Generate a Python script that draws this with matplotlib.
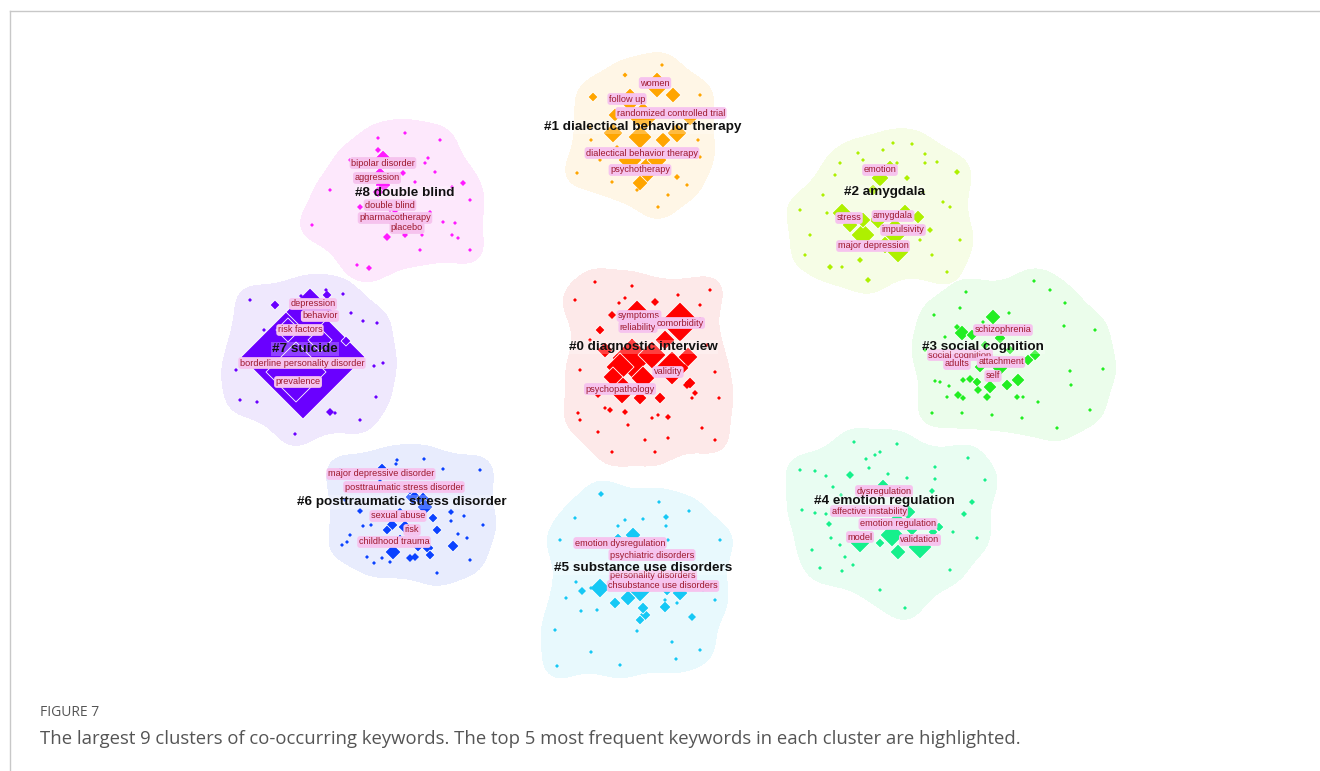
import numpy as np
import matplotlib
matplotlib.use('Agg')
import matplotlib.pyplot as plt

# canvas is laid out in pixel units
W_PX, H_PX = 1320, 771

cluster_ids = [0, 1, 2, 3, 4, 5, 6, 7, 8]
cluster_names = ['diagnostic interview', 'dialectical behavior therapy', 'amygdala',
                 'social cognition', 'emotion regulation', 'substance use disorders',
                 'posttraumatic stress disorder', 'suicide', 'double blind']
cluster_label_x = [643, 643, 884, 983, 884, 643, 402, 305, 405]
cluster_label_y = [347, 127, 192, 347, 501, 568, 502, 349, 193]

# keyword nodes per cluster: (x, y, frequency)
nodes_c0 = [(637, 315, 15), (680, 322, 20), (632, 358, 20), (672, 368, 17), (652, 355, 14),
            (620, 367, 14), (643, 378, 12), (622, 390, 14), (613, 377, 10), (688, 357, 10),
            (640, 398, 7), (660, 398, 6), (605, 350, 8), (665, 340, 10), (690, 383, 6),
            (600, 330, 5), (655, 302, 4), (612, 315, 4), (632, 286, 2), (678, 295, 2),
            (710, 290, 2), (619, 303, 2), (685, 367, 3), (687, 385, 4), (695, 393, 3),
            (719, 398, 2), (692, 398, 2), (605, 408, 2), (610, 410, 3), (578, 413, 2),
            (625, 412, 3), (658, 415, 2), (668, 417, 3), (652, 418, 2), (595, 282, 2),
            (700, 320, 3), (707, 345, 2), (590, 340, 2), (580, 370, 2), (598, 395, 3),
            (580, 420, 2), (598, 432, 2), (628, 425, 2), (645, 440, 2), (668, 438, 2),
            (702, 428, 2), (655, 452, 2), (715, 372, 2), (575, 300, 2), (700, 305, 2),
            (625, 298, 2), (715, 440, 2), (612, 452, 2)]
nodes_c1 = [(657, 85, 13), (630, 100, 12), (673, 95, 8), (643, 117, 15), (677, 133, 10),
            (613, 133, 10), (640, 137, 12), (663, 140, 8), (630, 160, 12), (647, 170, 13),
            (657, 160, 10), (640, 183, 8), (690, 118, 8), (615, 115, 7), (593, 97, 5),
            (625, 75, 2.5), (662, 65, 2), (591, 140, 2), (577, 173, 2), (637, 190, 2),
            (658, 207, 2), (687, 185, 2), (677, 177, 3), (698, 140, 2), (700, 157, 2),
            (693, 150, 2), (590, 127, 2), (617, 147, 2), (600, 160, 2), (700, 95, 2),
            (612, 182, 2), (668, 195, 2)]
nodes_c2 = [(842, 213, 10), (880, 178, 9), (863, 235, 12), (895, 232, 14), (898, 252, 11),
            (863, 220, 8), (918, 217, 7), (878, 220, 9), (885, 245, 9), (850, 225, 8),
            (905, 210, 6), (873, 190, 6), (890, 165, 5), (840, 163, 2), (863, 160, 2),
            (883, 150, 2), (893, 143, 2), (912, 144, 2), (925, 154, 2), (925, 163, 2),
            (937, 162, 2), (957, 172, 3), (835, 175, 2), (897, 163, 2), (907, 178, 3),
            (823, 195, 2), (923, 192, 2), (943, 202, 2), (950, 207, 2), (827, 213, 2),
            (805, 255, 2), (830, 267, 3), (842, 267, 2), (860, 260, 3), (868, 280, 3),
            (932, 255, 2), (947, 272, 2), (858, 153, 2), (930, 230, 3), (920, 240, 2),
            (800, 210, 2), (960, 240, 2), (810, 235, 2)]
nodes_c3 = [(993, 317, 8), (962, 333, 8), (972, 335, 6), (1000, 338, 6), (1035, 355, 6),
            (1028, 360, 6), (1018, 380, 7), (1007, 385, 6), (990, 387, 7), (1000, 368, 8),
            (977, 382, 5), (957, 363, 5), (980, 367, 6), (1010, 350, 5), (985, 345, 5),
            (958, 395, 4), (987, 397, 4), (978, 390, 4), (970, 379, 4), (963, 380, 3),
            (966, 292, 2), (960, 308, 2), (934, 315, 2), (1034, 281, 2), (1065, 303, 2),
            (1009, 313, 2), (1064, 326, 2), (983, 322, 2), (957, 327, 3), (945, 337, 2),
            (1070, 371, 2), (1103, 369, 2), (1071, 385, 2), (935, 381, 2), (940, 382, 2),
            (949, 386, 2), (947, 397, 2), (1017, 397, 3), (1023, 397, 2), (1038, 402, 2),
            (932, 413, 2), (962, 413, 2), (992, 415, 2), (1022, 418, 2), (1057, 428, 2),
            (963, 398, 3), (1090, 410, 2), (1095, 330, 2), (925, 350, 2), (1050, 290, 2)]
nodes_c4 = [(883, 485, 6), (908, 512, 8), (892, 535, 12), (920, 547, 12), (860, 543, 10),
            (898, 552, 8), (880, 543, 5), (939, 527, 5), (933, 532, 5), (897, 520, 8),
            (870, 525, 5), (912, 530, 6), (854, 442, 2), (897, 444, 2), (880, 452, 2),
            (875, 455, 2), (866, 459, 2), (815, 471, 2), (850, 475, 4), (869, 468, 2),
            (826, 476, 2), (888, 474, 2), (907, 478, 2), (935, 467, 2), (935, 479, 2),
            (968, 458, 2), (833, 487, 2), (841, 495, 2), (932, 491, 3), (972, 502, 3),
            (802, 510, 2), (815, 513, 2), (826, 514, 2), (964, 514, 3), (829, 524, 3),
            (953, 532, 2), (831, 538, 2), (977, 538, 2), (840, 545, 2), (812, 550, 2),
            (845, 557, 2), (853, 565, 2), (820, 568, 2), (842, 571, 2), (905, 608, 2),
            (800, 470, 2), (985, 480, 2), (950, 570, 2), (880, 590, 2)]
nodes_c5 = [(633, 535, 8), (600, 588, 10), (640, 590, 12), (667, 588, 8), (680, 593, 8),
            (615, 603, 6), (643, 608, 6), (645, 615, 6), (640, 620, 5), (665, 607, 6),
            (618, 538, 5), (628, 598, 8), (655, 580, 8), (620, 575, 6), (690, 578, 5),
            (601, 494, 3), (659, 502, 2), (689, 511, 2), (575, 518, 2), (625, 520, 2),
            (643, 519, 2), (666, 517, 3), (666, 526, 2), (618, 526, 2), (668, 540, 2),
            (576, 582, 2), (591, 588, 2), (566, 598, 2), (582, 591, 4), (703, 590, 2),
            (597, 610, 2), (581, 611, 2), (692, 617, 4), (637, 631, 2), (672, 642, 2),
            (591, 652, 2), (676, 659, 2), (557, 666, 2), (665, 600, 2), (677, 603, 2),
            (560, 540, 2), (720, 540, 2), (715, 600, 2), (555, 630, 2), (700, 650, 2),
            (620, 665, 2)]
nodes_c6 = [(382, 468, 5), (413, 497, 8), (423, 500, 8), (425, 507, 8), (400, 513, 6),
            (392, 525, 6), (387, 530, 5), (405, 527, 7), (433, 518, 5), (437, 530, 5),
            (393, 552, 8), (428, 548, 6), (430, 555, 5), (453, 546, 6), (410, 558, 4),
            (415, 557, 4), (418, 545, 7), (400, 540, 6), (410, 490, 5), (396, 464, 2),
            (397, 460, 2), (424, 459, 2), (443, 469, 2), (380, 481, 2), (451, 512, 3),
            (464, 516, 2), (360, 511, 3), (363, 526, 2), (371, 525, 2), (350, 535, 2),
            (347, 542, 2), (342, 545, 2), (458, 534, 2), (467, 538, 2), (483, 525, 2),
            (367, 557, 2), (382, 558, 2), (374, 563, 2), (390, 562, 2), (437, 573, 2),
            (451, 521, 2), (340, 470, 2), (480, 470, 2), (345, 500, 2), (470, 560, 2)]
nodes_c7 = [(303, 357, 62), (310, 312, 24), (296, 372, 30), (288, 330, 12), (320, 340, 12),
            (275, 305, 5), (326, 290, 2), (327, 295, 5), (343, 294, 2), (301, 296, 2),
            (351, 313, 2), (363, 321, 2), (377, 323, 2), (264, 330, 2), (335, 337, 3),
            (346, 341, 5), (338, 340, 3), (383, 363, 2), (374, 366, 2), (236, 370, 2),
            (252, 353, 3), (376, 397, 2), (257, 402, 2), (330, 412, 4), (335, 413, 2),
            (295, 434, 2), (250, 300, 2), (360, 420, 2), (240, 400, 2)]
nodes_c8 = [(383, 160, 10), (380, 174, 7), (383, 185, 8), (378, 192, 6), (395, 210, 4),
            (392, 222, 4), (405, 232, 4), (378, 138, 2), (405, 133, 2), (378, 150, 3),
            (403, 173, 3), (428, 158, 2), (435, 172, 2), (415, 182, 2), (463, 183, 3),
            (452, 187, 2), (425, 163, 2), (360, 207, 3), (312, 225, 2), (430, 212, 2),
            (443, 222, 2), (455, 223, 2), (452, 235, 2), (458, 238, 2), (387, 237, 4),
            (405, 235, 3), (422, 235, 2), (357, 265, 2), (369, 268, 3), (390, 210, 2),
            (470, 200, 2), (330, 190, 2), (350, 160, 2), (440, 140, 2), (420, 250, 2),
            (470, 250, 2)]

# five most frequent keywords per cluster: (keyword, x, y)
top_c0 = [('symptoms', 639, 316), ('reliability', 638, 327), ('comorbidity', 680, 323),
          ('validity', 668, 372), ('psychopathology', 620, 389)]
top_c1 = [('women', 655, 83), ('follow up', 627, 99), ('randomized controlled trial', 671, 113),
          ('dialectical behavior therapy', 642, 153), ('psychotherapy', 640, 170)]
top_c2 = [('emotion', 880, 170), ('stress', 849, 218), ('amygdala', 893, 216),
          ('impulsivity', 903, 230), ('major depression', 873, 246)]
top_c3 = [('schizophrenia', 1003, 330), ('social cognition', 960, 355), ('adults', 957, 364),
          ('attachment', 1001, 362), ('self', 993, 376)]
top_c4 = [('dysregulation', 884, 491), ('affective instability', 869, 511),
          ('emotion regulation', 898, 524), ('model', 860, 537), ('validation', 920, 540)]
top_c5 = [('emotion dysregulation', 620, 543), ('psychiatric disorders', 652, 555),
          ('personality disorders', 653, 576), ('chsubstance use disorders', 663, 586)]
top_c6 = [('major depressive disorder', 381, 474), ('posttraumatic stress disorder', 404, 487),
          ('sexual abuse', 398, 516), ('risk', 412, 530), ('childhood trauma', 394, 542)]
top_c7 = [('depression', 313, 304), ('behavior', 320, 316), ('risk factors', 300, 330),
          ('borderline personality disorder', 302, 363), ('prevalence', 298, 382)]
top_c8 = [('bipolar disorder', 383, 163), ('aggression', 377, 178), ('double blind', 390, 205),
          ('pharmacotherapy', 395, 218), ('placebo', 407, 228)]

node_sets = [nodes_c0, nodes_c1, nodes_c2, nodes_c3, nodes_c4,
             nodes_c5, nodes_c6, nodes_c7, nodes_c8]
top_sets = [top_c0, top_c1, top_c2, top_c3, top_c4, top_c5, top_c6, top_c7, top_c8]

node_colors = ['#ff0000', '#ffa500', '#aef000', '#22ee22', '#16f08c',
               '#16c8f5', '#0a42ff', '#6a00ff', '#ff1aff']
hull_colors = ['#fde9e9', '#fff6e6', '#f6fde6', '#ebfdeb', '#e9fdf2',
               '#e8f9fd', '#e8ecfd', '#efe8fd', '#fde8fc']

# grid used to shape the cluster areas
STEP = 2
gx = np.arange(0, W_PX, STEP) + STEP / 2
gy = np.arange(0, H_PX, STEP) + STEP / 2
GX, GY = np.meshgrid(gx, gy)
GH, GW = GX.shape
PH, PW = GH + 64, GW + 64


def fft_conv(img, ker):
    kh, kw = ker.shape
    k = np.zeros((PH, PW))
    k[:kh, :kw] = ker
    k = np.roll(k, (-(kh // 2), -(kw // 2)), axis=(0, 1))
    out = np.fft.irfft2(np.fft.rfft2(img, s=(PH, PW)) * np.fft.rfft2(k), s=(PH, PW))
    return out[:GH, :GW]


def disk(r):
    yy, xx = np.mgrid[-r:r + 1, -r:r + 1]
    return (xx ** 2 + yy ** 2 <= r * r).astype(float)


def hull_field(nodes, grow=48, shrink=34, soften=6.0):
    # dilate around the nodes, erode back (closing), then soften the edge
    dmin = np.full(GX.shape, np.inf)
    for x, y, h in nodes:
        dmin = np.minimum(dmin, np.hypot(GX - x, GY - y) - h)
    region = (dmin < grow).astype(float)
    k = disk(shrink // STEP)
    region = (fft_conv(region, k) > k.sum() - 0.5).astype(float)
    r = int(3 * soften)
    yy, xx = np.mgrid[-r:r + 1, -r:r + 1]
    g = np.exp(-(xx ** 2 + yy ** 2) / (2 * soften ** 2))
    return fft_conv(region, g / g.sum())


fig = plt.figure(figsize=(W_PX / 100, H_PX / 100), dpi=100)
ax = fig.add_axes([0, 0, 1, 1])
ax.set_xlim(0, W_PX)
ax.set_ylim(H_PX, 0)
ax.axis('off')

for cid in cluster_ids:
    field = hull_field(node_sets[cid])
    ax.contourf(GX, GY, field, levels=[0.5, 10], colors=[hull_colors[cid]], zorder=0)

for cid in cluster_ids:
    arr = np.array(node_sets[cid], dtype=float)
    arr = arr[np.argsort(-arr[:, 2])]
    half = arr[:, 2]
    # 'D' marker: half-diagonal in px -> marker area in pt^2
    sizes = (half * 72 / 100 / 0.7071) ** 2
    lws = np.where(half >= 5, 0.6, 0.0)
    ax.scatter(arr[:, 0], arr[:, 1], s=sizes, marker='D', c=node_colors[cid],
               edgecolors='white', linewidths=lws, zorder=2)

for cid in cluster_ids:
    for word, x, y in top_sets[cid]:
        ax.text(x, y, word, ha='center', va='center', fontsize=6.6,
                family='Liberation Sans', color='#9e1a2e', zorder=4,
                bbox=dict(boxstyle='round,pad=0.15,rounding_size=0.3', fc='#f6c3ee', ec='none'))
    ax.text(cluster_label_x[cid], cluster_label_y[cid], f'#{cid} {cluster_names[cid]}',
            ha='center', va='center', fontsize=9.7, fontweight='bold',
            family='Liberation Sans', color='#111111', zorder=5,
            bbox=dict(boxstyle='square,pad=0.05', fc='white', alpha=0.25, ec='none'))

# page frame
ax.plot([10, W_PX], [11, 11], color='#c8c8c8', lw=1, zorder=6, clip_on=False)
ax.plot([10, 10], [11, H_PX], color='#c8c8c8', lw=1, zorder=6, clip_on=False)

fig.text(40 / W_PX, 1 - 713 / H_PX, 'FIGURE 7', fontsize=10, family='Open Sans',
         color='#555555', va='center')
fig.text(40 / W_PX, 1 - 739 / H_PX,
         'The largest 9 clusters of co-occurring keywords. The top 5 most frequent keywords '
         'in each cluster are highlighted.',
         fontsize=13.3, family='Open Sans', color='#555555', va='center')

fig.savefig('out.png', dpi=100, facecolor='white')
